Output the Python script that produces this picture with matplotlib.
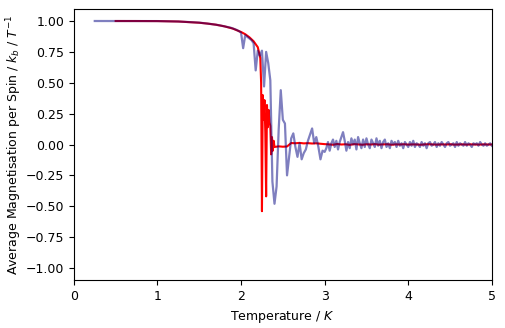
import numpy as np
import matplotlib
matplotlib.use('Agg')
import matplotlib.pyplot as plt

plt.rcParams['font.size'] = 9

# ordered (low temperature) region, coarse sampling
blue_t_low = [0.25, 0.5, 0.75, 1.0, 1.25, 1.5, 1.6, 1.7, 1.75]
blue_m_low = [1.0, 1.0, 0.9999, 0.9993, 0.996, 0.987, 0.979, 0.970, 0.964]

# transition region, sampled every 0.025
blue_t_mid = np.round(np.arange(1.8, 3.0001, 0.025), 3)
blue_m_mid = [
    0.957, 0.953, 0.950, 0.946, 0.940, 0.934, 0.927, 0.918, 0.905, 0.780,
    0.885, 0.872, 0.860, 0.845, 0.820, 0.600, 0.760, 0.720, 0.760, 0.470,
    0.750, 0.660, 0.520, -0.300, -0.480, -0.340, 0.120, 0.440, 0.200, 0.170,
    -0.250, -0.100, 0.050, 0.090, -0.020, -0.100, 0.010, -0.120, -0.070, -0.040,
    0.030, 0.080, 0.130, 0.010, 0.060, -0.020, -0.120, -0.050, -0.060,
]

# disordered region, sampled every 0.02
blue_t_high = np.round(np.arange(3.02, 5.0001, 0.02), 3)
blue_m_high = [
    -0.03, 0.02, -0.05, 0.01, 0.04, -0.02, 0.03, -0.04, 0.02, 0.06,
    0.10, 0.03, -0.05, 0.02, -0.03, 0.05, 0.00, 0.04, -0.04, 0.06,
    0.01, -0.03, 0.04, -0.02, 0.05, 0.00, -0.03, 0.04, 0.01, -0.02,
    0.05, -0.01, 0.03, -0.03, 0.02, 0.04, -0.02, 0.01, -0.03, 0.03,
    0.00, 0.02, -0.02, 0.03, -0.01, 0.01, -0.03, 0.02, 0.00, -0.02,
    0.02, -0.01, 0.03, -0.02, 0.01, 0.00, -0.02, 0.02, -0.01, 0.01,
    -0.03, 0.01, 0.02, -0.01, 0.00, 0.02, -0.02, 0.01, -0.01, 0.02,
    0.00, -0.02, 0.01, 0.02, -0.01, 0.00, 0.01, -0.02, 0.02, -0.01,
    0.01, 0.00, -0.01, 0.02, -0.01, 0.01, 0.00, -0.02, 0.01, 0.00,
    0.01, -0.01, 0.02, 0.00, -0.01, 0.01, -0.01, 0.00, 0.01, -0.01,
]

red_t_low = [0.5, 0.75, 1.0, 1.25, 1.5, 1.6, 1.7, 1.8, 1.9, 2.0, 2.05, 2.1, 2.15, 2.2]
red_m_low = [1.0, 0.9999, 0.9993, 0.996, 0.986, 0.979, 0.970, 0.957, 0.939,
             0.911, 0.893, 0.868, 0.836, 0.788]

# critical region, fine steps
red_t_crit = np.round(np.arange(2.21, 2.4001, 0.01), 3)
red_m_crit = [0.760, 0.730, 0.700, 0.500, -0.540, 0.400, 0.200, 0.360, 0.100,
              -0.420, 0.320, 0.140, 0.280, 0.180, 0.150, -0.080, 0.060, -0.050,
              0.030, -0.020]

red_t_tail = np.round(np.arange(2.45, 5.0001, 0.05), 3)
red_m_tail = [
    -0.015, -0.018, -0.016, 0.012, 0.010, 0.013, 0.009, 0.011, 0.008, 0.010,
    0.006, 0.003, 0.001, -0.002, 0.004, 0.000, 0.002, -0.003, 0.003, 0.001,
    -0.002, 0.002, 0.000, 0.003, -0.001, 0.001, 0.002, -0.002, 0.001, 0.000,
    0.002, -0.001, 0.001, 0.000, -0.002, 0.001, 0.002, 0.000, -0.001, 0.001,
    0.000, 0.002, -0.001, 0.000, 0.001, -0.001, 0.001, 0.000, -0.001, 0.001,
    0.000, 0.000,
]

blue_t = np.concatenate([blue_t_low, blue_t_mid, blue_t_high])
blue_m = np.concatenate([blue_m_low, blue_m_mid, blue_m_high])
red_t = np.concatenate([red_t_low, red_t_crit, red_t_tail])
red_m = np.concatenate([red_m_low, red_m_crit, red_m_tail])

fig = plt.figure(figsize=(5.06, 3.28), dpi=100)
ax = fig.add_axes([0.146, 0.1453, 0.826, 0.8283])

ax.plot(red_t, red_m, color='red', lw=1.5)
ax.plot(blue_t, blue_m, color='navy', alpha=0.5, lw=1.6)

ax.set_xlim(0, 5)
ax.set_ylim(-1.1, 1.1)
ax.set_yticks(np.arange(-1.0, 1.01, 0.25))
ax.set_xlabel(r'Temperature / $K$')
ax.set_ylabel(r'Average Magnetisation per Spin / $k_b$ / $T^{-1}$')
ax.yaxis.set_label_coords(-0.12, 0.5)

fig.savefig('out.png', dpi=100)
